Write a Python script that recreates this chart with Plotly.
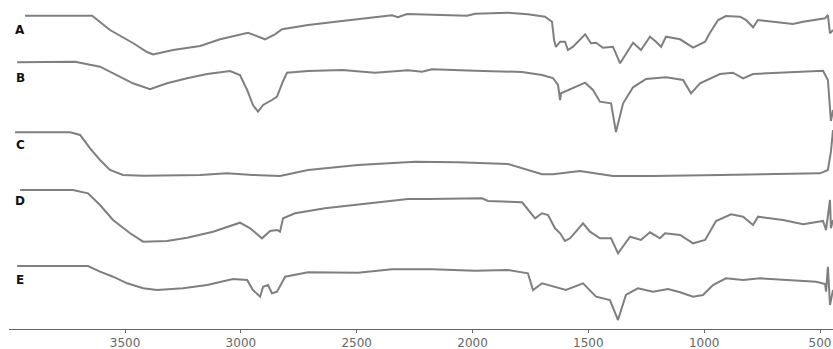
import plotly.graph_objects as go

# Wavenumbers (cm^-1) and relative transmittance (a.u., stacked offsets)
wn_A = [3932, 3642, 3565, 3466, 3405, 3379, 3293, 3176, 3090, 2969, 2896, 2853, 2822, 2710, 2563,
        2421, 2348, 2322, 2283, 2132, 2024, 1989, 1847, 1761, 1687, 1657, 1648, 1640, 1622, 1601,
        1588, 1566, 1514, 1489, 1467, 1437, 1394, 1363, 1307, 1273, 1234, 1208, 1186, 1165, 1104,
        1048, 996, 975, 940, 906, 845, 819, 789, 768, 703, 617, 573, 478, 466, 457, 444]
T_A = [314.3, 314.3, 300, 287, 278, 275.5, 280, 284, 290.7, 297.3, 290.7, 295.7, 300.7, 305, 309,
       312.3, 314.7, 312.7, 316, 315, 314.3, 316.3, 317.3, 315.7, 313.3, 308.3, 290, 283, 288.3, 288.3,
       280, 283.3, 295.7, 286.7, 287.3, 282.3, 283.3, 266.7, 287.3, 280, 293.3, 288.3, 283.3, 293.3, 290.7,
       282.3, 288.3, 297.3, 310, 314, 313.3, 310, 302.7, 310, 308.3, 306, 308.3, 311.7, 315, 296.7, 300]

wn_B = [3966, 3716, 3608, 3535, 3466, 3392, 3319, 3232, 3146, 3047, 3004, 2973, 2948, 2926, 2904,
        2866, 2844, 2822, 2801, 2710, 2563, 2421, 2279, 2218, 2175, 1989, 1786, 1700, 1653, 1631,
        1622, 1618, 1566, 1514, 1480, 1450, 1402, 1381, 1350, 1307, 1251, 1165, 1091, 1057, 1018,
        932, 876, 832, 789, 647, 530, 487, 466, 453, 444]
T_B = [267.7, 268.3, 263.3, 255, 246.7, 240.7, 246.7, 251.7, 256, 259, 255, 240, 225, 218.3, 225,
       230, 233.3, 246.7, 257.3, 259, 260, 257.3, 259.7, 258.3, 260.7, 259.3, 258, 255, 252, 245,
       230, 236.7, 241.7, 247.3, 240, 228.3, 226.7, 198, 226.7, 242.7, 251, 252.7, 250, 236.7, 246.7,
       256, 257.3, 251.7, 256, 257.3, 258.3, 259.3, 250, 209, 220]

wn_C = [3975, 3737, 3694, 3651, 3608, 3565, 3509, 3422, 3176, 3060, 2948, 2831, 2710, 2494, 2248,
        2063, 1847, 1743, 1700, 1653, 1536, 1394, 1221, 932, 500, 466, 453, 444]
T_C = [197.7, 197.7, 195, 181.7, 170, 160, 155, 154.3, 155, 156.7, 155, 154, 160, 165, 168.3,
       167.7, 166, 158.3, 155.7, 155.7, 159, 154, 154, 155, 156.7, 160, 178.3, 200]

wn_D = [3953, 3725, 3660, 3608, 3552, 3478, 3422, 3319, 3232, 3120, 3004, 2960, 2909, 2874, 2844,
        2831, 2818, 2766, 2637, 2494, 2279, 2192, 1959, 1933, 1786, 1730, 1700, 1674, 1644, 1622,
        1601, 1579, 1523, 1493, 1450, 1402, 1372, 1320, 1273, 1234, 1191, 1169, 1104, 1048, 996,
        949, 884, 832, 789, 768, 660, 573, 487, 474, 457, 453, 444]
T_D = [140, 140, 136.7, 125, 110, 96.7, 88.3, 89, 92.3, 98.3, 107.3, 101.7, 91.7, 99, 100,
       98.3, 111.7, 116.7, 121.7, 125.7, 131, 131, 131.7, 129, 127.7, 111.7, 116.7, 115, 101.7, 96.7,
       89, 91.7, 106.7, 98.3, 91.7, 91.7, 76.7, 93.3, 90, 97.7, 91.7, 96.7, 95, 86.7, 90,
       109, 115.7, 113.3, 105, 113.3, 110, 105.7, 109, 100, 130, 101.7, 110]

wn_E = [3966, 3660, 3608, 3552, 3491, 3422, 3362, 3250, 3146, 3034, 2973, 2948, 2917, 2904, 2883,
        2866, 2844, 2809, 2710, 2494, 2348, 2175, 1989, 1847, 1761, 1739, 1700, 1653, 1597, 1523,
        1467, 1407, 1372, 1338, 1286, 1221, 1156, 1104, 1048, 1005, 962, 906, 832, 759, 647,
        517, 478, 474, 466, 457, 444]
T_E = [64, 64, 58.3, 53.3, 46.7, 41.7, 40, 41.7, 45, 51, 50, 40, 33.3, 43.3, 45,
       36.7, 38.3, 53.3, 57.7, 57.3, 60.7, 60.7, 59.3, 60, 56.7, 40, 46.7, 43.3, 40, 46.7,
       33.3, 30, 10, 35, 41.7, 38.3, 41, 37.7, 33.3, 35, 45, 51.7, 50, 51.7, 50.3,
       48.3, 46, 38.3, 63.3, 25, 40]

labels = ["A", "B", "C", "D", "E"]
label_T = [300, 252, 185, 129, 50]
label_wn = 3953

tick_vals = [3500, 3000, 2500, 2000, 1500, 1000, 500]

series = [(wn_A, T_A), (wn_B, T_B), (wn_C, T_C), (wn_D, T_D), (wn_E, T_E)]

fig = go.Figure()
for (wn, T), name in zip(series, labels):
    fig.add_trace(go.Scatter(x=wn, y=T, mode="lines", name=name,
                             line=dict(color="#7f7f7f", width=2), showlegend=False))

for name, ty in zip(labels, label_T):
    fig.add_annotation(x=label_wn, y=ty, text="<b>" + name + "</b>", showarrow=False,
                       xanchor="center", yanchor="middle",
                       font=dict(family="DejaVu Sans", size=12, color="#111111"))

fig.update_layout(
    width=833, height=349,
    margin=dict(l=9, r=0, t=0, b=20),
    paper_bgcolor="white", plot_bgcolor="white",
    xaxis=dict(range=[4001, 444], tickvals=tick_vals, ticks="outside", ticklen=3,
               tickcolor="#666666", showline=True, linecolor="#666666", linewidth=1,
               showgrid=False, zeroline=False, automargin=False,
               tickfont=dict(family="DejaVu Sans", size=12, color="#666666")),
    yaxis=dict(range=[1, 330], visible=False, showgrid=False, zeroline=False,
               automargin=False),
)

fig.write_html("out.html", config={"displayModeBar": False},
               post_script="document.body.style.margin='0px';document.body.style.overflow='hidden';")
